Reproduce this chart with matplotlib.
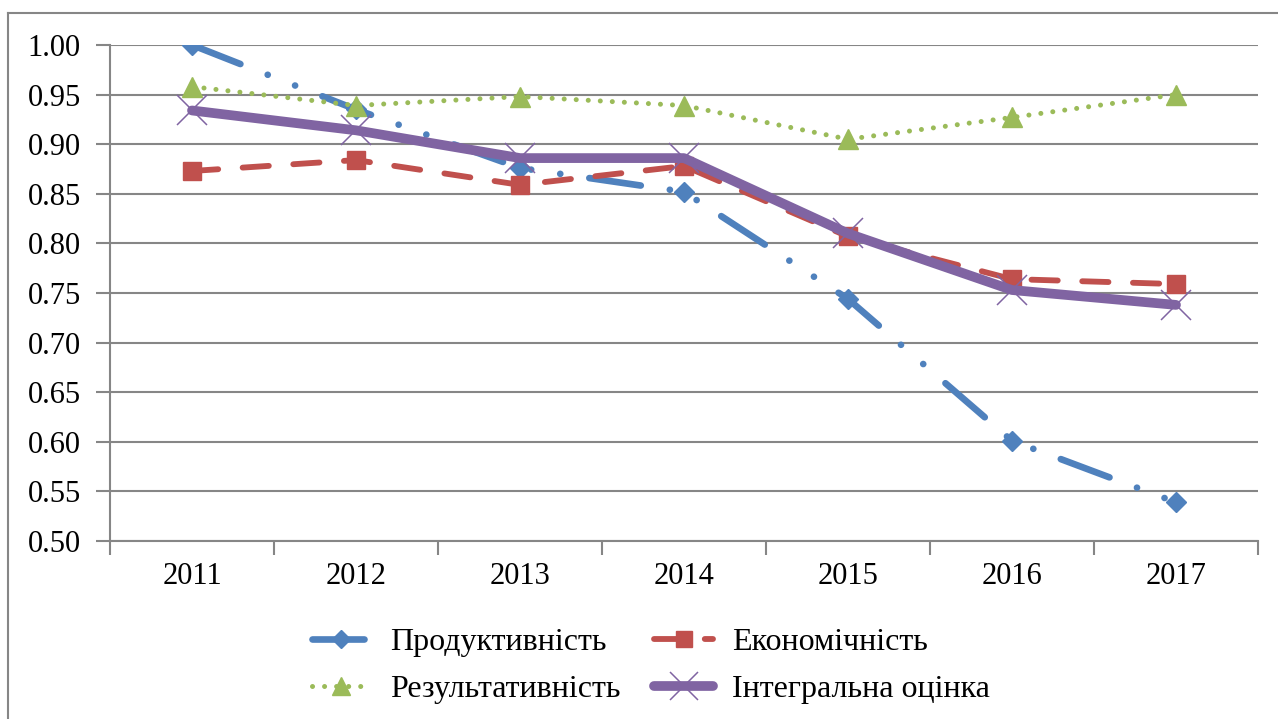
import matplotlib
matplotlib.use("Agg")

import matplotlib.pyplot as plt
from matplotlib import font_manager as fm
from matplotlib.lines import Line2D

serif_path = fm.findfont('Liberation Serif')
fm.fontManager.addfont(serif_path)
serif_name = fm.FontProperties(fname=serif_path).get_name()
plt.rcParams['font.family'] = [serif_name, 'DejaVu Serif']

years = ['2011', '2012', '2013', '2014', '2015', '2016', '2017']
productivity = [1.000, 0.935, 0.876, 0.852, 0.744, 0.601, 0.539]
economy = [0.873, 0.884, 0.859, 0.878, 0.807, 0.764, 0.759]
effectiveness = [0.958, 0.939, 0.948, 0.939, 0.905, 0.927, 0.950]
integral = [0.934, 0.914, 0.886, 0.886, 0.810, 0.753, 0.738]
labels = ['Продуктивність', 'Економічність', 'Результативність', 'Інтегральна оцінка']
yticks = [0.50, 0.55, 0.60, 0.65, 0.70, 0.75, 0.80, 0.85, 0.90, 0.95, 1.00]

BLUE = '#4F81BD'
RED = '#C0504D'
GREEN = '#9BBB59'
PURPLE = '#8064A2'
GRID = '#868686'
FS = 22

fig = plt.figure(figsize=(12.78, 7.19), dpi=100)
ax = fig.add_axes([110/1278, 1 - 541/719, 1148/1278, 496/719])

x = list(range(len(years)))

l1, = ax.plot(x, productivity, color=BLUE, lw=4.8, marker='D', ms=10.5,
              solid_capstyle='round', dash_capstyle='round', zorder=3)
l1.set_dashes([7.8, 4.4, 0.01, 4.4, 0.01, 4.4])

l2, = ax.plot(x, economy, color=RED, lw=4.2, marker='s', ms=13,
              dash_capstyle='round', zorder=4)
l2.set_dashes([4.5, 4.2])

l3, = ax.plot(x, effectiveness, color=GREEN, lw=3.6, marker='^', ms=14,
              dash_capstyle='round', zorder=5)
l3.set_dashes([0.01, 2.4])

l4, = ax.plot(x, integral, color=PURPLE, lw=7, marker='x', ms=22, mew=1.1,
              solid_capstyle='round', solid_joinstyle='round', zorder=6)

ax.set_xlim(-0.5, len(years) - 0.5)
ax.set_ylim(0.5, 1.0)
ax.set_yticks(yticks)
ax.set_yticklabels([f'{v:.2f}' for v in yticks])
ax.yaxis.grid(True, color=GRID, lw=1.5)
ax.set_axisbelow(True)

# category boundaries carry the tick marks, labels sit in between
ax.set_xticks([i - 0.5 for i in range(len(years) + 1)])
ax.set_xticklabels([])
ax.set_xticks(x, minor=True)
ax.set_xticklabels(years, minor=True)
ax.tick_params(axis='x', which='major', length=10, width=1.5, color=GRID, direction='out')
ax.tick_params(axis='x', which='minor', length=0, pad=15, labelsize=FS)
ax.tick_params(axis='y', length=10, width=1.5, color=GRID, direction='out', pad=11, labelsize=FS)

for s in ['top', 'right']:
    ax.spines[s].set_visible(False)
for s in ['left', 'bottom']:
    ax.spines[s].set_color(GRID)
    ax.spines[s].set_linewidth(1.5)
ax.spines['bottom'].set_zorder(1)

# chart frame
fig.add_artist(Line2D([8/1278, 1], [1 - 13/719, 1 - 13/719], color=GRID, lw=1.5))
fig.add_artist(Line2D([8/1278, 8/1278], [0, 1 - 13/719], color=GRID, lw=1.5))

handles = [l1, l3, l2, l4]
names = [labels[0], labels[2], labels[1], labels[3]]
fig.legend(handles, names, ncol=2, loc='center',
           bbox_to_anchor=(651/1278, 1 - 666/719), frameon=False,
           fontsize=23, handlelength=1.85, handletextpad=0.6,
           columnspacing=1.05, labelspacing=0.55, markerscale=0.9)

fig.savefig('out.png', dpi=100, facecolor='white')
